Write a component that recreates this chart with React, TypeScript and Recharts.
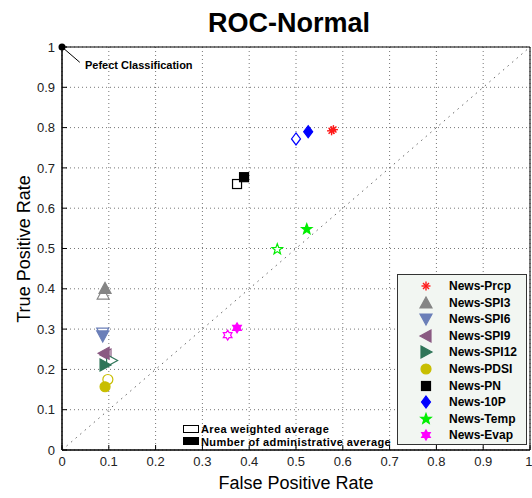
import React from "react"
import {
  CartesianGrid,
  ReferenceArea,
  ReferenceLine,
  Scatter,
  ScatterChart,
  XAxis,
  YAxis,
} from "recharts"

const names = [
  "News-Prcp",
  "News-SPI3",
  "News-SPI6",
  "News-SPI9",
  "News-SPI12",
  "News-PDSI",
  "News-PN",
  "News-10P",
  "News-Temp",
  "News-Evap",
]
const kinds = ["asterisk", "up", "down", "left", "right", "circle", "square", "diamond", "pentagram", "hexagram"]
const colors = ["#ff1a1a", "#858585", "#6b7fb8", "#8a5a82", "#2f7558", "#c8be00", "#000000", "#0000ff", "#00ee00", "#ff00ff"]

// number of administrative average (filled markers)
const adminFpr = [0.58, 0.092, 0.087, 0.09, 0.092, 0.092, 0.389, 0.526, 0.523, 0.374]
const adminTpr = [0.795, 0.401, 0.283, 0.24, 0.211, 0.157, 0.677, 0.79, 0.548, 0.303]

// area weighted average (open markers)
const areaFpr = [0.576, 0.088, 0.087, 0.094, 0.106, 0.098, 0.374, 0.5, 0.46, 0.354]
const areaTpr = [0.792, 0.387, 0.29, 0.236, 0.222, 0.175, 0.66, 0.772, 0.498, 0.285]

const ticks = [0, 0.1, 0.2, 0.3, 0.4, 0.5, 0.6, 0.7, 0.8, 0.9, 1]
const perfect = [{ x: 0, y: 1 }]
const perfectLeader = [{ x: 0, y: 1 }, { x: 0.038, y: 0.962 }]

const FONT = "'Liberation Sans', Arial, Helvetica, sans-serif"

function starPoints(cx: number, cy: number, n: number, ro: number, ri: number) {
  const pts: string[] = []
  for (let i = 0; i < n * 2; i++) {
    const r = i % 2 === 0 ? ro : ri
    const a = -Math.PI / 2 + (i * Math.PI) / n
    pts.push(`${cx + r * Math.cos(a)},${cy + r * Math.sin(a)}`)
  }
  return pts.join(" ")
}

function Marker({ kind, cx, cy, color, filled }: { kind: string; cx: number; cy: number; color: string; filled: boolean }) {
  const fill = filled ? color : "#ffffff"
  const common = { fill, stroke: color, strokeWidth: 1.2 }
  switch (kind) {
    case "asterisk":
      return (
        <g stroke={color} strokeWidth={1.4}>
          <line x1={cx - 4.5} y1={cy} x2={cx + 4.5} y2={cy} />
          <line x1={cx} y1={cy - 4.5} x2={cx} y2={cy + 4.5} />
          <line x1={cx - 3} y1={cy - 3} x2={cx + 3} y2={cy + 3} />
          <line x1={cx - 3} y1={cy + 3} x2={cx + 3} y2={cy - 3} />
        </g>
      )
    case "up":
      return <polygon points={`${cx},${cy - 6} ${cx - 6},${cy + 5} ${cx + 6},${cy + 5}`} {...common} />
    case "down":
      return <polygon points={`${cx},${cy + 6} ${cx - 6},${cy - 5} ${cx + 6},${cy - 5}`} {...common} />
    case "left":
      return <polygon points={`${cx - 6},${cy} ${cx + 5},${cy - 6} ${cx + 5},${cy + 6}`} {...common} />
    case "right":
      return <polygon points={`${cx + 6},${cy} ${cx - 5},${cy - 6} ${cx - 5},${cy + 6}`} {...common} />
    case "circle":
      return <circle cx={cx} cy={cy} r={5} {...common} />
    case "square":
      return <rect x={cx - 4.5} y={cy - 4.5} width={9} height={9} {...common} />
    case "diamond":
      return <polygon points={`${cx},${cy - 6} ${cx + 4.5},${cy} ${cx},${cy + 6} ${cx - 4.5},${cy}`} {...common} />
    case "pentagram":
      return <polygon points={starPoints(cx, cy, 5, 5.5, 2.3)} {...common} />
    default:
      return <polygon points={starPoints(cx, cy, 6, 5, 2.9)} {...common} />
  }
}

const shapeFor = (i: number, filled: boolean) => (p: any) =>
  <Marker kind={kinds[i]} cx={p.cx} cy={p.cy} color={colors[i]} filled={filled} />

const tickStyle = { fill: "#222", fontSize: 13, fontFamily: FONT }

const avgText = {
  position: "absolute" as const,
  left: 18,
  top: 0,
  fontSize: 11,
  fontWeight: "bold" as const,
  lineHeight: "12px",
  letterSpacing: "0.4px",
}

export default function App() {
  return (
    <div style={{ position: "relative", width: 532, height: 498, background: "#fff", fontFamily: FONT }}>
      <style>{`body{margin:0}`}</style>
      <ScatterChart width={532} height={498} margin={{ top: 47, right: 2, bottom: 0, left: 0 }}>
        <CartesianGrid stroke="#777" strokeDasharray="1 3" />
        <XAxis
          type="number"
          dataKey="x"
          domain={[0, 1]}
          ticks={ticks}
          height={48}
          stroke="#000"
          tickSize={-5}
          tickMargin={12}
          tick={tickStyle}
          tickFormatter={(v: number) => String(Number(v.toFixed(1)))}
        />
        <YAxis
          type="number"
          dataKey="y"
          domain={[0, 1]}
          ticks={ticks}
          width={62}
          stroke="#000"
          tickSize={-5}
          tickMargin={12}
          tick={tickStyle}
          tickFormatter={(v: number) => String(Number(v.toFixed(1)))}
        />
        <ReferenceArea x1={0} x2={1} y1={0} y2={1} fill="none" stroke="#000" strokeWidth={1} />
        <ReferenceLine
          segment={[{ x: 0, y: 0 }, { x: 1, y: 1 }]}
          stroke="#666"
          strokeDasharray="1.5 4.5"
        />
        <ReferenceLine segment={perfectLeader} stroke="#000" strokeWidth={1} />
        <Scatter
          data={perfect}
          isAnimationActive={false}
          shape={(p: any) => <circle cx={p.cx} cy={p.cy} r={3.5} fill="#000" />}
        />
        {names.map((n, i) => (
          <Scatter
            key={"a" + n}
            name={n + " area"}
            data={[{ x: areaFpr[i], y: areaTpr[i] }]}
            isAnimationActive={false}
            shape={shapeFor(i, false)}
          />
        ))}
        {names.map((n, i) => (
          <Scatter
            key={"n" + n}
            name={n}
            data={[{ x: adminFpr[i], y: adminTpr[i] }]}
            isAnimationActive={false}
            shape={shapeFor(i, true)}
          />
        ))}
      </ScatterChart>

      <div
        style={{
          position: "absolute",
          left: 0,
          width: 532,
          top: 6,
          textAlign: "center",
          paddingLeft: 46,
          boxSizing: "border-box",
          fontSize: 27,
          fontWeight: "bold",
          color: "#000",
          lineHeight: "34px",
        }}
      >
        ROC-Normal
      </div>
      <div
        style={{
          position: "absolute",
          left: 62,
          width: 468,
          top: 472,
          textAlign: "center",
          fontSize: 18,
          color: "#000",
          lineHeight: "22px",
        }}
      >
        False Positive Rate
      </div>
      <div
        style={{
          position: "absolute",
          left: 24,
          top: 249,
          transform: "translate(-50%, -50%) rotate(-90deg)",
          whiteSpace: "nowrap",
          fontSize: 18,
          color: "#000",
          lineHeight: "22px",
        }}
      >
        True Positive Rate
      </div>
      <div
        style={{
          position: "absolute",
          left: 85,
          top: 58,
          fontSize: 11,
          fontWeight: "bold",
          color: "#000",
          lineHeight: "14px",
          whiteSpace: "nowrap",
        }}
      >
        Pefect Classification
      </div>

      {/* marker legend */}
      <div
        style={{
          position: "absolute",
          left: 397,
          top: 274,
          width: 130,
          height: 171,
          boxSizing: "border-box",
          border: "1px solid #333",
          background: "#f2f6f2",
        }}
      >
        {names.map((n, i) => (
          <div key={n} style={{ position: "absolute", left: 0, top: 3 + i * 16.6, height: 16, width: 128 }}>
            <svg width={20} height={16} style={{ position: "absolute", left: 18, top: 0 }}>
              <Marker kind={kinds[i]} cx={10} cy={8} color={colors[i]} filled={true} />
            </svg>
            <span
              style={{
                position: "absolute",
                left: 51,
                top: 0,
                fontSize: 12,
                fontWeight: "bold",
                lineHeight: "16px",
                whiteSpace: "nowrap",
              }}
            >
              {n}
            </span>
          </div>
        ))}
      </div>

      {/* average-type legend */}
      <div style={{ position: "absolute", left: 183, top: 423, whiteSpace: "nowrap" }}>
        <div style={{ position: "relative", height: 13 }}>
          <span
            style={{
              position: "absolute",
              left: 0,
              top: 2,
              width: 14,
              height: 6,
              border: "1px solid #000",
              background: "#fff",
            }}
          />
          <span style={avgText}>Area weighted average</span>
        </div>
        <div style={{ position: "relative", height: 13 }}>
          <span
            style={{ position: "absolute", left: 0, top: 1, width: 16, height: 8, background: "#000" }}
          />
          <span style={avgText}>Number of administrative average</span>
        </div>
      </div>
    </div>
  )
}
